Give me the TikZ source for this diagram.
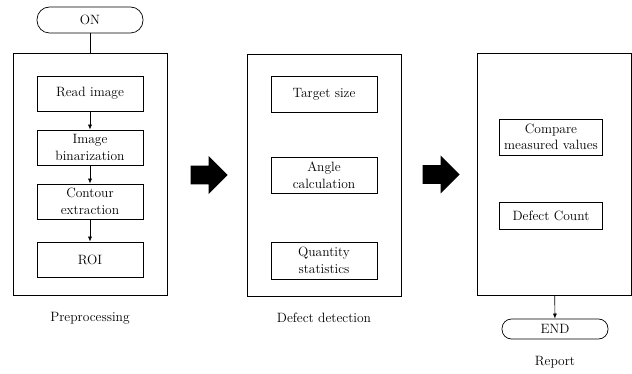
\documentclass[tikz,border=0pt]{standalone}
\usetikzlibrary{shapes.arrows,arrows.meta}

\tikzset{
  stepbox/.style={draw, minimum width=106pt, minimum height=35pt, align=center, inner sep=1pt},
  stagebox/.style={draw, minimum width=154pt, minimum height=242pt},
  terminal/.style={draw, minimum width=106pt, inner sep=0pt},
  bigarrow/.style={single arrow, fill=black, minimum height=37pt, single arrow head extend=9.5pt, inner sep=9pt, anchor=tip},
  flow/.style={-{Latex[length=5pt,width=4pt]}}
}

\begin{document}
\begin{tikzpicture}[x=1pt,y=-1pt, font=\fontsize{13.5}{16.5}\selectfont, line width=0.7pt]
 	\useasboundingbox (0,0) rectangle (632,374);
 	% stage frames
 	\node[stagebox] (pre) at (90,174.5) {};
 	\node[stagebox] (det) at (324,175) {};
 	\node[stagebox] (rep) at (554,174.5) {};
 	% start and end
 	\node[terminal, rounded corners=12.5pt, minimum height=26pt] (on) at (90,20) {ON};
 	\node[terminal, rounded corners=9.5pt, minimum height=20pt] (end) at (555,329) {END};
 	\draw (on) -- (pre);
 	\draw[flow] (rep) -- (end);
 	% preprocessing
 	\node[stepbox] (read) at (90,93.5) {Read image};
 	\node[stepbox] (bin) at (90,147.5) {Image\\binarization};
 	\node[stepbox] (cont) at (90,201.5) {Contour\\extraction};
 	\node[stepbox] (roi) at (90,259.5) {ROI};
 	\draw[flow] (read) -- (bin);
 	\draw[flow] (bin) -- (cont);
 	\draw[flow] (cont) -- (roi);
 	% defect detection
 	\node[stepbox, minimum height=36pt] (size) at (324,94) {Target size};
 	\node[stepbox, minimum height=36pt] (angle) at (324,175) {Angle\\calculation};
 	\node[stepbox, minimum height=37pt] (qty) at (324,260.5) {Quantity\\statistics};
 	% report
 	\node[stepbox, minimum width=103pt, minimum height=36pt] (cmp) at (551,137) {Compare\\measured values};
 	\node[stepbox, minimum width=103pt, minimum height=27pt] (cnt) at (551,215.5) {Defect Count};
 	% block arrows between stages
 	\node[bigarrow] (arrA) at (228,175) {};
 	\node[bigarrow] (arrB) at (460,174.5) {};
 	% captions
 	\node (preL) at (90,318) {Preprocessing};
 	\node (detL) at (324,318) {Defect detection};
 	\node (repL) at (555,362) {Report};
\end{tikzpicture}
\end{document}
